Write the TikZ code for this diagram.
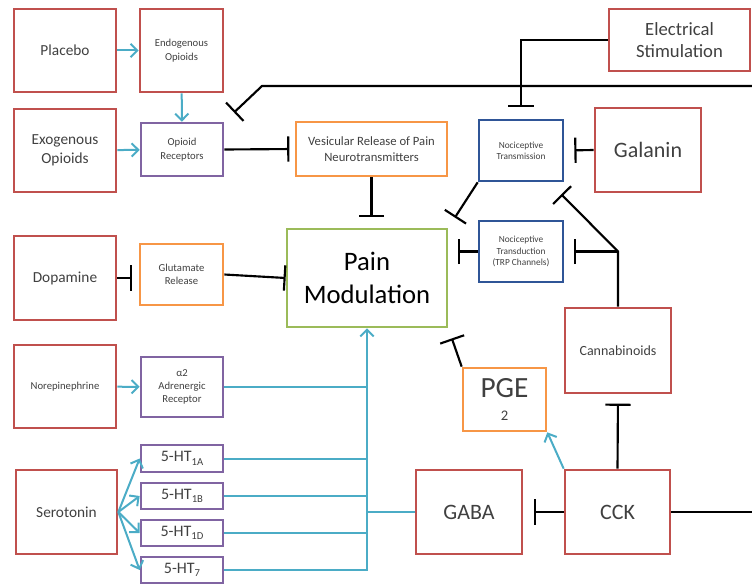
\documentclass[tikz,border=0pt]{standalone}
\usepackage{fontspec}
\setmainfont{Carlito}
\usetikzlibrary{arrows.meta}
\definecolor{boxred}{HTML}{C0504D}
\definecolor{boxpurple}{HTML}{8064A2}
\definecolor{boxorange}{HTML}{F79646}
\definecolor{boxblue}{HTML}{2F5597}
\definecolor{boxgreen}{HTML}{9BBB59}
\definecolor{actcyan}{HTML}{4BACC6}
\definecolor{txt}{HTML}{404040}
\newcommand{\htsub}[1]{\raisebox{-2.5pt}{\fontsize{8}{9}\selectfont #1}}
\begin{document}
\begin{tikzpicture}[x=0.75pt,y=-0.75pt,
  box/.style={rectangle,line width=2pt,align=center,inner sep=1pt,text=txt},
  sz/.style 2 args={minimum width=#1*0.75pt,minimum height=#2*0.75pt},
  redbox/.style={box,draw=boxred},
  purplebox/.style={box,draw=boxpurple},
  orangebox/.style={box,draw=boxorange},
  bluebox/.style={box,draw=boxblue},
  greenbox/.style={box,draw=boxgreen},
  act/.style={draw=actcyan,line width=1.5pt,-{Straight Barb[length=5pt,width=10pt]}},
  actline/.style={draw=actcyan,line width=1.5pt},
  inh/.style={draw=black,line width=1.6pt,-{Bar[width=19pt]}},
  plain/.style={draw=black,line width=1.6pt}]
\useasboundingbox (0,0) rectangle (752,585);
% left column
\node[redbox,sz={102}{83},font=\fontsize{11.5}{14}\selectfont] (placebo) at (65,50.5) {Placebo};
\node[redbox,sz={102}{83},font=\fontsize{11.5}{14}\selectfont] (exo) at (65,150.5) {Exogenous\\Opioids};
\node[redbox,sz={102}{84},font=\fontsize{11.5}{14}\selectfont] (dopa) at (65,278) {Dopamine};
\node[redbox,sz={102}{83},font=\fontsize{8}{10}\selectfont] (norepi) at (65,386.5) {Norepinephrine};
\node[redbox,sz={101}{84},font=\fontsize{11.5}{14}\selectfont] (sero) at (66.5,512) {Serotonin};
% second column
\node[redbox,sz={83}{83},font=\fontsize{8}{10}\selectfont] (endo) at (181.5,50.5) {Endogenous\\Opioids};
\node[purplebox,sz={82}{53},font=\fontsize{8}{10}\selectfont] (oprec) at (182,149.5) {Opioid\\Receptors};
\node[orangebox,sz={83}{61},font=\fontsize{8}{10}\selectfont] (glurel) at (181.5,274.5) {Glutamate\\Release};
\node[purplebox,sz={82}{60},font=\fontsize{8}{10}\selectfont] (alpha) at (182,387) {α2\\Adrenergic\\Receptor};
\node[purplebox,sz={82}{27},font=\fontsize{12}{14}\selectfont] (htA) at (182,458.5) {5-HT\htsub{1A}};
\node[purplebox,sz={82}{26},font=\fontsize{12}{14}\selectfont] (htB) at (182,496) {5-HT\htsub{1B}};
\node[purplebox,sz={82}{26},font=\fontsize{12}{14}\selectfont] (htD) at (182,533) {5-HT\htsub{1D}};
\node[purplebox,sz={82}{26},font=\fontsize{12}{14}\selectfont] (htS) at (182,570) {5-HT\htsub{7}};
% centre
\node[orangebox,sz={151}{54},font=\fontsize{9.5}{11.5}\selectfont] (vesrel) at (371.5,149) {Vesicular Release of Pain\\Neurotransmitters};
\node[greenbox,sz={160}{98},text=black,font=\fontsize{20}{25}\selectfont] (painmod) at (367,278) {Pain\\Modulation};
\node[orangebox,sz={83}{63},inner sep=0pt] (pge) at (504.5,399.5) {\fontsize{22}{21}\selectfont PGE\\[5pt]{\fontsize{11}{13}\selectfont 2}};
\node[redbox,sz={106}{84},font=\fontsize{16.5}{20}\selectfont] (gaba) at (469,512) {GABA};
% right
\node[redbox,sz={141}{62},font=\fontsize{14}{16.5}\selectfont] (elec) at (679.5,40) {Electrical\\Stimulation};
\node[bluebox,sz={84}{61},font=\fontsize{7}{8.5}\selectfont] (notrans) at (521,150.5) {Nociceptive\\Transmission};
\node[redbox,sz={106}{84},font=\fontsize{16.5}{20}\selectfont] (galanin) at (648,150) {Galanin};
\node[bluebox,sz={84}{61},font=\fontsize{7}{8.5}\selectfont] (notrd) at (521,251.5) {Nociceptive\\Transduction\\(TRP Channels)};
\node[redbox,sz={106}{85},font=\fontsize{10.5}{13}\selectfont] (canna) at (618,350.5) {Cannabinoids};
\node[redbox,sz={105}{84},font=\fontsize{16.5}{20}\selectfont] (cck) at (617.5,512) {CCK};
\coordinate (rtop) at (752,86);
\coordinate (rbot) at (752,512);
\coordinate (cj) at (canna.north |- notrd.east);
% activating links
\draw[act] (placebo) -- (endo);
\draw[act] (endo) -- (oprec);
\draw[act] (exo) -- (oprec);
\draw[act] (norepi) -- (alpha);
\foreach \h in {htA,htB,htD,htS}
  \draw[act] (sero.east) -- (\h.west);
\draw[actline] (alpha.east) -- (alpha.east -| painmod.south);
\foreach \h in {htA,htB,htD}
  \draw[actline] (\h.east) -- (\h.east -| painmod.south);
\draw[actline] (gaba.west) -- (gaba.west -| painmod.south);
\draw[act] (htS.east) -- (htS.east -| painmod.south) -- (painmod.south);
\draw[act] (cck.north west) -- (pge.south east);
% inhibiting links
\draw[inh,shorten >=10pt] (rtop) -- (262,86) -- (oprec.north east);
\draw[plain] (cck.east) -- (rbot);
\draw[inh,shorten >=4pt] (oprec.east) -- (vesrel.west);
\draw[inh,shorten >=8pt] (vesrel.south) -- (vesrel.south |- painmod.north);
\draw[inh,shorten >=5pt] (dopa.east) -- (dopa.east -| glurel.west);
\draw[inh] (glurel.east) -- (painmod.west);
\draw[inh,shorten >=9pt] (elec.west) -| (notrans.north);
\draw[inh,shorten >=7.5pt] (galanin.west) -- (notrans.east);
\draw[inh,shorten >=9pt] (notrans.south west) -- (painmod.north east);
\draw[inh,shorten >=7.5pt] (notrd.west) -- (notrd.west -| painmod.east);
\draw[inh] (canna.north) -- (cj) -- ([shift={(-3,12)}]notrans.south east);
\draw[inh,shorten >=7.5pt] (cj) -- (notrd.east);
\draw[inh,shorten >=8pt] (pge.north west) -- (painmod.south east);
\draw[inh,shorten >=7pt] (cck.north) -- (canna.south);
\draw[inh,shorten >=8pt] (cck.west) -- (gaba.east);
\end{tikzpicture}
\end{document}
